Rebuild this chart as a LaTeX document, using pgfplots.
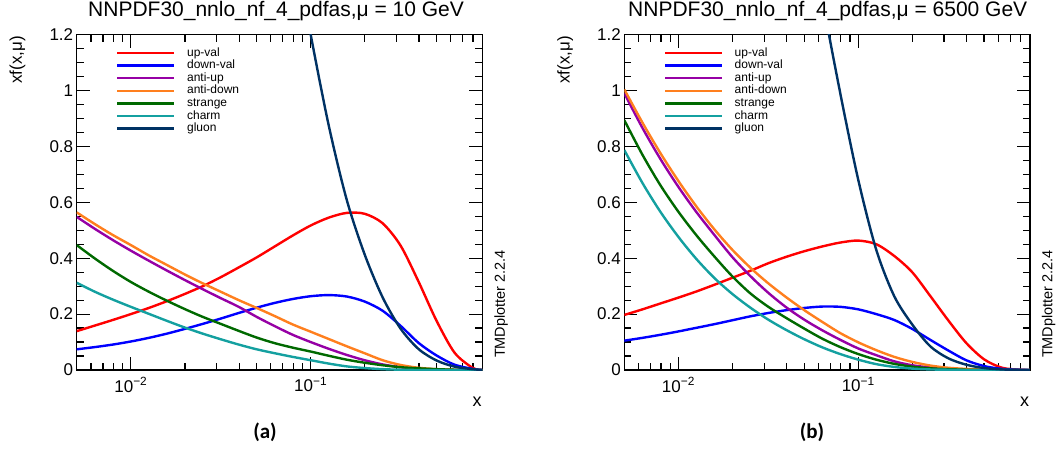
\documentclass[border=0pt]{standalone}
\usepackage{pgfplots}
\usepackage{pgfplotstable}
\pgfplotsset{compat=1.18}
\usepackage{fontspec}
\setmainfont{Liberation Sans}
\newfontfamily\carlito{Carlito}
\definecolor{cup}{RGB}{255,0,0}
\definecolor{cdown}{RGB}{0,0,255}
\definecolor{cau}{RGB}{150,0,165}
\definecolor{cad}{RGB}{255,127,30}
\definecolor{cstr}{RGB}{0,105,0}
\definecolor{cch}{RGB}{20,160,160}
\definecolor{cglu}{RGB}{0,50,100}
% mu = 10 GeV
\pgfplotstableread{
x       up    dv    au    ad    s     c     g
0.005   0.139 0.074 0.548 0.564 0.447 0.312 nan
0.00631 0.159 0.082 0.505 0.522 0.399 0.280 nan
0.00794 0.179 0.091 0.465 0.483 0.355 0.252 nan
0.01    0.200 0.102 0.427 0.447 0.315 0.226 nan
0.01259 0.222 0.115 0.391 0.410 0.280 0.201 nan
0.01585 0.246 0.130 0.356 0.376 0.248 0.176 nan
0.01995 0.272 0.147 0.322 0.342 0.218 0.152 nan
0.02512 0.300 0.165 0.289 0.310 0.190 0.130 nan
0.03162 0.332 0.184 0.257 0.280 0.165 0.110 nan
0.03981 0.367 0.204 0.226 0.250 0.140 0.091 nan
0.05012 0.403 0.223 0.190 0.222 0.116 0.074 nan
0.0631  0.442 0.240 0.157 0.193 0.096 0.060 nan
0.07943 0.481 0.254 0.126 0.163 0.080 0.047 1.55
0.1     0.517 0.264 0.100 0.137 0.066 0.035 1.2
0.1259  0.545 0.268 0.076 0.111 0.051 0.023 0.876
0.1585  0.562 0.263 0.054 0.085 0.037 0.013 0.61
0.1995  0.559 0.245 0.035 0.060 0.026 0.007 0.414
0.2512  0.525 0.212 0.020 0.035 0.017 0.003 0.26
0.3162  0.445 0.158 0.010 0.018 0.010 0.001 0.148
0.3981  0.316 0.097 0.004 0.008 0.006 0     0.075
0.5012  0.176 0.052 0.001 0.003 0.003 0     0.034
0.631   0.062 0.019 0     0.001 0.001 0     0.012
0.7943  0.008 0.004 0     0     0     0     0.003
0.9     0     0     0     0     0     0     0
}\lefttab
% mu = 6500 GeV
\pgfplotstableread{
x       up    dv    au    ad    s     c     g
0.005   0.197 0.105 0.990 1.004 0.894 0.787 nan
0.00631 0.217 0.115 0.866 0.885 0.770 0.669 nan
0.00794 0.238 0.126 0.755 0.776 0.661 0.566 nan
0.01    0.259 0.138 0.655 0.676 0.566 0.476 nan
0.01259 0.281 0.151 0.565 0.585 0.482 0.397 nan
0.01585 0.305 0.164 0.483 0.503 0.406 0.329 nan
0.01995 0.330 0.178 0.404 0.430 0.335 0.272 nan
0.02512 0.355 0.192 0.336 0.366 0.274 0.223 nan
0.03162 0.382 0.204 0.276 0.310 0.226 0.180 nan
0.03981 0.405 0.214 0.224 0.260 0.186 0.143 nan
0.05012 0.425 0.222 0.180 0.214 0.148 0.110 1.72
0.0631  0.442 0.227 0.142 0.172 0.112 0.081 1.33
0.07943 0.456 0.226 0.108 0.132 0.082 0.057 0.99
0.1     0.463 0.217 0.077 0.099 0.057 0.037 0.68
0.1259  0.450 0.200 0.053 0.071 0.037 0.021 0.43
0.1585  0.408 0.179 0.031 0.047 0.022 0.011 0.264
0.1995  0.350 0.147 0.017 0.029 0.012 0.005 0.163
0.2512  0.265 0.108 0.009 0.016 0.006 0.002 0.085
0.3162  0.178 0.070 0.004 0.008 0.003 0.001 0.042
0.3981  0.097 0.035 0.001 0.004 0.001 0     0.019
0.5012  0.038 0.014 0     0.001 0     0     0.007
0.631   0.008 0.004 0     0     0     0     0.002
0.7943  0.001 0.001 0     0     0     0     0
0.9     0     0     0     0     0     0     0
}\righttab
\pgfplotsset{/pgf/number format/assume math mode=true}
\pgfplotsset{
    scale only axis, width=405.6pt, height=335.4pt,
    xmin=0.005, xmax=0.9, ymin=0, ymax=1.2,
    ytick={0,0.2,0.4,0.6,0.8,1,1.2},
    minor ytick={0.05,0.1,0.15,0.25,0.3,0.35,0.45,0.5,0.55,0.65,0.7,0.75,0.85,0.9,0.95,1.05,1.1,1.15},
    xtick={0.01,0.1},
    xticklabels={10\textsuperscript{−2},10\textsuperscript{−1}},
    minor xtick={0.005,0.006,0.007,0.008,0.009,0.02,0.03,0.04,0.05,0.06,0.07,0.08,0.09,0.2,0.3,0.4,0.5,0.6,0.7,0.8},
    tick align=inside, xtick pos=both, ytick pos=both,
    major tick length=13pt, minor tick length=7pt,
    tick style={black, line width=1.2pt},
    axis line style={line width=1.5pt},
    tick label style={font=\fontsize{17}{19}\selectfont},
    xticklabel style={yshift=-4pt},
    legend cell align=left,
    legend image code/.code={\draw[#1, line width=2.4pt] (0pt,0pt) -- (56.7pt,0pt);},
    legend style={draw=none, fill=none, at={(rel axis cs:0.097,0.9636)}, anchor=north west,
      font=\fontsize{12}{12}\selectfont, inner sep=0pt, row sep=0.6pt, column sep=11.5pt,
      nodes={inner sep=0.3pt, text height=8.8pt, text depth=2.6pt}},
}
\begin{document}
\begin{tikzpicture}
\path[use as bounding box] (0,0) rectangle (1061pt,451pt);
% ---------------- left panel ----------------
\begin{semilogxaxis}[at={(76.7pt,81pt)}, anchor=south west]
\addplot[color=cup, line width=2.4pt, smooth, mark=none] table[x=x, y=up] {\lefttab};
\addlegendentry{up-val}
\addplot[color=cdown, line width=2.4pt, smooth, mark=none] table[x=x, y=dv] {\lefttab};
\addlegendentry{down-val}
\addplot[color=cau, line width=2.4pt, smooth, mark=none] table[x=x, y=au] {\lefttab};
\addlegendentry{anti-up}
\addplot[color=cad, line width=2.4pt, smooth, mark=none] table[x=x, y=ad] {\lefttab};
\addlegendentry{anti-down}
\addplot[color=cstr, line width=2.4pt, smooth, mark=none] table[x=x, y=s] {\lefttab};
\addlegendentry{strange}
\addplot[color=cch, line width=2.4pt, smooth, mark=none] table[x=x, y=c] {\lefttab};
\addlegendentry{charm}
\addplot[color=cglu, line width=2.4pt, smooth, mark=none] table[x=x, y=g] {\lefttab};
\addlegendentry{gluon}
\end{semilogxaxis}
% ---------------- right panel ----------------
\begin{semilogxaxis}[at={(624.3pt,81pt)}, anchor=south west]
\addplot[color=cup, line width=2.4pt, smooth, mark=none] table[x=x, y=up] {\righttab};
\addlegendentry{up-val}
\addplot[color=cdown, line width=2.4pt, smooth, mark=none] table[x=x, y=dv] {\righttab};
\addlegendentry{down-val}
\addplot[color=cau, line width=2.4pt, smooth, mark=none] table[x=x, y=au] {\righttab};
\addlegendentry{anti-up}
\addplot[color=cad, line width=2.4pt, smooth, mark=none] table[x=x, y=ad] {\righttab};
\addlegendentry{anti-down}
\addplot[color=cstr, line width=2.4pt, smooth, mark=none] table[x=x, y=s] {\righttab};
\addlegendentry{strange}
\addplot[color=cch, line width=2.4pt, smooth, mark=none] table[x=x, y=c] {\righttab};
\addlegendentry{charm}
\addplot[color=cglu, line width=2.4pt, smooth, mark=none] table[x=x, y=g] {\righttab};
\addlegendentry{gluon}
\end{semilogxaxis}
% ---------------- texts ----------------
\node[anchor=base west, inner sep=0pt, font=\fontsize{21}{23}\selectfont] at (88pt,434pt) {NNPDF30\_nnlo\_nf\_4\_pdfas,μ = 10 GeV};
\node[anchor=base west, inner sep=0pt, font=\fontsize{21}{23}\selectfont] at (628pt,434pt) {NNPDF30\_nnlo\_nf\_4\_pdfas,μ = 6500 GeV};
\node[rotate=90, anchor=east, inner sep=0pt, font=\fontsize{17}{19}\selectfont] at (17.5pt,415pt) {xf(x,μ)};
\node[rotate=90, anchor=east, inner sep=0pt, font=\fontsize{17}{19}\selectfont] at (565.1pt,415pt) {xf(x,μ)};
\node[inner sep=0pt, font=\fontsize{18}{20}\selectfont] at (477pt,49pt) {x};
\node[inner sep=0pt, font=\fontsize{18}{20}\selectfont] at (1024.6pt,49pt) {x};
\node[rotate=90, inner sep=0pt, font=\fontsize{14.5}{16}\selectfont] at (501pt,147pt) {TMDplotter 2.2.4};
\node[rotate=90, inner sep=0pt, font=\fontsize{14.5}{16}\selectfont] at (1048.6pt,147pt) {TMDplotter 2.2.4};
\node[inner sep=0pt, font=\carlito\bfseries\fontsize{21}{23}\selectfont] at (265pt,19pt) {(a)};
\node[inner sep=0pt, font=\carlito\bfseries\fontsize{21}{23}\selectfont] at (812pt,19pt) {(b)};
\end{tikzpicture}
\end{document}
